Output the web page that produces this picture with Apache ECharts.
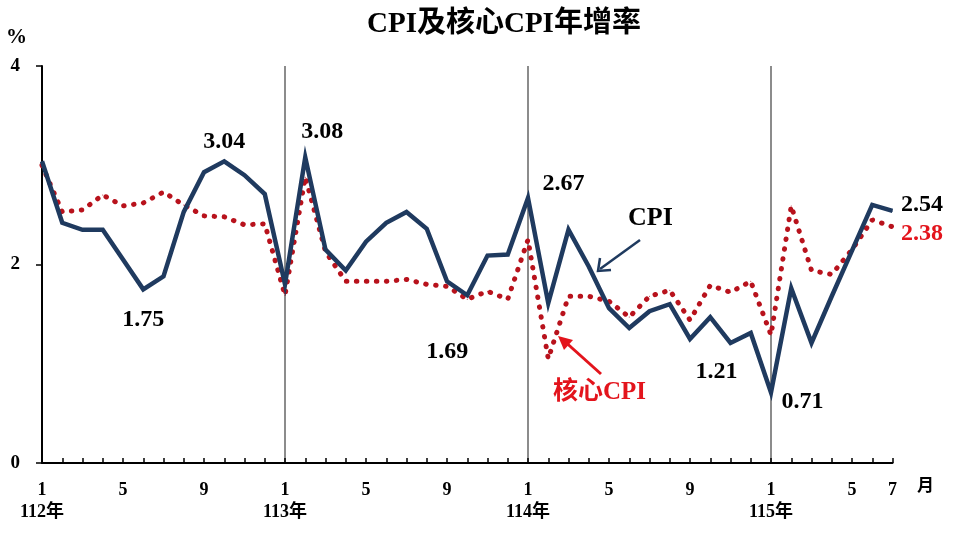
<!DOCTYPE html>
<html>
<head>
<meta charset="utf-8">
<script src="https://cdn.jsdelivr.net/npm/echarts@6/dist/echarts.min.js"></script>
<style>
html,body{margin:0;padding:0;background:#fff;}
#main{width:960px;height:540px;}
</style>
</head>
<body>
<div id="main"></div>
<script>
// 112年1月 ~ 115年7月
var years = ['112年', '113年', '114年', '115年'];
var monthsShown = [1, 5, 9];
var lastMonth = 7;

var cpi = [
    3.04, 2.42, 2.35, 2.35, 2.05, 1.75, 1.88, 2.53, 2.93, 3.04, 2.90, 2.71,
    1.80, 3.08, 2.15, 1.94, 2.23, 2.42, 2.53, 2.36, 1.83, 1.69, 2.09, 2.10,
    2.67, 1.61, 2.35, 1.98, 1.56, 1.36, 1.53, 1.60, 1.25, 1.47, 1.21, 1.31,
    0.71, 1.76, 1.21, 1.68, 2.14, 2.60, 2.54
];
var coreCpi = [
    3.00, 2.53, 2.55, 2.70, 2.59, 2.62, 2.73, 2.60, 2.49, 2.48, 2.40, 2.41,
    1.69, 2.88, 2.13, 1.83, 1.83, 1.83, 1.85, 1.80, 1.78, 1.65, 1.73, 1.65,
    2.25, 1.05, 1.68, 1.68, 1.63, 1.47, 1.68, 1.74, 1.44, 1.79, 1.72, 1.83,
    1.29, 2.59, 1.94, 1.90, 2.15, 2.45, 2.38
];
var yTicks = [0, 2, 4];

// build category list (month / year)
var categories = [];
for (var y = 0; y < years.length; y++) {
    for (var m = 1; m <= 12; m++) {
        if (y === years.length - 1 && m > lastMonth) break;
        categories.push({ year: years[y], month: m });
    }
}

var serif = '"Liberation Serif","Times New Roman","Noto Sans CJK TC",serif';
var navy = '#1F3A5F';
var dotRed = '#B8121C';
var textRed = '#E3141C';

// 標註位置
var cpiLabels = {
    5: { position: 'bottom', distance: 18 },
    9: { position: 'top', distance: 7 },
    13: { position: 'top', distance: 13, offset: [17, 0] },
    21: { position: 'bottom', distance: 44, offset: [-20, 0] },
    24: { position: 'right', distance: 14, offset: [0, -14] },
    34: { position: 'bottom', distance: 16, offset: [-14, 0] },
    36: { position: 'right', distance: 10, offset: [0, 9] },
    42: { position: 'right', distance: 8, offset: [0, -6] }
};
var coreLabels = {
    42: { position: 'right', distance: 8, offset: [0, 7] }
};

function buildData(values, labels, color) {
    return values.map(function (v, i) {
        var l = labels[i];
        if (!l) return v;
        return {
            value: v,
            label: {
                show: true,
                position: l.position,
                distance: l.distance,
                offset: l.offset || [0, 0],
                formatter: function (p) { return p.value.toFixed(2); },
                color: color,
                fontFamily: serif,
                fontWeight: 'bold',
                fontSize: 24
            }
        };
    });
}

var myChart = echarts.init(document.getElementById('main'));

var option = {
    animation: false,
    title: {
        text: 'CPI及核心CPI年增率',
        left: 362,
        top: 5,
        textStyle: { fontFamily: serif, fontWeight: 'bold', fontSize: 29, color: '#000' }
    },
    grid: { left: 42, right: 67.5, top: 66, bottom: 77 },
    xAxis: {
        type: 'category',
        boundaryGap: false,
        data: categories.map(function (c, i) { return i; }),
        axisLine: { lineStyle: { color: '#000', width: 2 } },
        axisTick: { show: true, inside: true, length: 5, interval: 0, lineStyle: { color: '#000', width: 1.5 } },
        axisLabel: {
            interval: 0,
            margin: 16,
            color: '#000',
            fontFamily: serif,
            fontWeight: 'bold',
            fontSize: 18,
            lineHeight: 22,
            formatter: function (val, idx) {
                var c = categories[idx];
                var last = idx === categories.length - 1;
                if (monthsShown.indexOf(c.month) < 0 && !last) return '';
                if (c.month === 1) return c.month + '\n' + c.year;
                return String(c.month);
            }
        },
        splitLine: {
            show: true,
            interval: function (idx) { return idx > 0 && categories[idx] && categories[idx].month === 1; },
            lineStyle: { color: '#8c8c8c', width: 2 }
        }
    },
    yAxis: {
        type: 'value',
        min: yTicks[0],
        max: yTicks[yTicks.length - 1],
        interval: yTicks[1] - yTicks[0],
        axisLine: { show: true, lineStyle: { color: '#000', width: 2 } },
        axisTick: { show: true, length: 6, lineStyle: { color: '#000', width: 1.5 } },
        axisLabel: { margin: 22, color: '#000', fontFamily: serif, fontWeight: 'bold', fontSize: 19 },
        splitLine: { show: false }
    },
    series: [
        {
            name: '核心CPI',
            type: 'line',
            data: buildData(coreCpi, coreLabels, textRed),
            symbol: 'circle',
            symbolSize: 1,
            itemStyle: { color: dotRed },
            lineStyle: { color: dotRed, width: 5, type: [0.5, 9.5], cap: 'round' },
            emphasis: { disabled: true },
            z: 2
        },
        {
            name: 'CPI',
            type: 'line',
            data: buildData(cpi, cpiLabels, '#000'),
            symbol: 'circle',
            symbolSize: 1,
            itemStyle: { color: navy },
            lineStyle: { color: navy, width: 4.5, join: 'miter' },
            emphasis: { disabled: true },
            z: 3
        }
    ],
    graphic: [
        { type: 'text', left: 6, top: 27, style: { text: '%', font: 'bold 21px ' + serif, fill: '#000' } },
        { type: 'text', x: 917, y: 478, style: { text: '月', font: 'bold 17px ' + serif, fill: '#000' } },
        { type: 'text', x: 628, y: 205, style: { text: 'CPI', font: 'bold 26px ' + serif, fill: '#000' } },
        { type: 'line', shape: { x1: 640, y1: 240, x2: 600, y2: 269 }, style: { stroke: navy, lineWidth: 2.5 } },
        { type: 'polyline', shape: { points: [[600, 258], [598, 271], [611, 270]] }, style: { stroke: navy, lineWidth: 2.5, fill: null } },
        { type: 'text', x: 553, y: 380, style: { text: '核心CPI', font: 'bold 25px ' + serif, fill: textRed } },
        { type: 'line', shape: { x1: 601, y1: 374, x2: 562, y2: 339 }, style: { stroke: textRed, lineWidth: 3 } },
        { type: 'polygon', shape: { points: [[558, 336], [573, 340], [564, 350]] }, style: { fill: textRed } }
    ]
};
myChart.setOption(option);
</script>
</body>
</html>
